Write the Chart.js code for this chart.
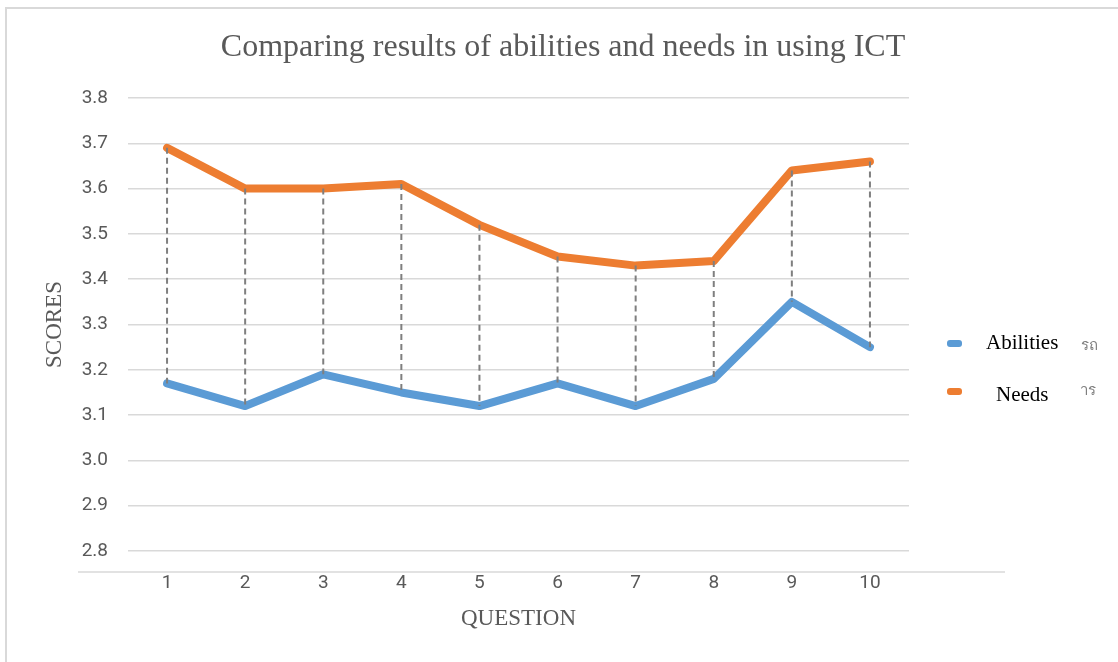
<!DOCTYPE html>
<html>
<head>
<meta charset="utf-8">
<script src="https://cdn.jsdelivr.net/npm/chart.js@4.4.1/dist/chart.umd.min.js"></script>
<style>
  html, body { margin: 0; padding: 0; background: #fff; }
  #wrap { position: relative; width: 1118px; height: 662px; overflow: hidden; }
  #frame { position: absolute; left: 5px; top: 7px; width: 1200px; height: 800px;
           border-left: 2px solid #d9d9d9; border-top: 2px solid #d9d9d9; }
  canvas { position: absolute; left: 0; top: 0; }
  #title { position: absolute; left: 0; width: 1126px; top: 27px; text-align: center;
           font-family: 'Liberation Serif', 'Times New Roman', serif; font-size: 32px; color: #595959; }
  .leg { position: absolute; font-family: 'Liberation Serif', 'Times New Roman', serif;
         font-size: 21px; color: #000; }
  .mark { position: absolute; width: 15px; height: 7px; border-radius: 3px; }
  .thai { position: absolute; font-family: 'Noto Sans', 'DejaVu Sans', sans-serif;
          font-size: 15px; color: #7f7f7f; }
</style>
</head>
<body>
<div id="wrap">
  <div id="frame"></div>
  <canvas id="chart" width="1118" height="662"></canvas>
  <div id="title">Comparing results of abilities and needs in using ICT</div>
  <div class="mark" style="left:947px;top:340px;background:#5b9bd5"></div>
  <div class="leg" style="left:986px;top:330px">Abilities</div>
  <div class="thai" style="left:1081px;top:333px">รถ</div>
  <div class="mark" style="left:947px;top:388px;background:#ed7d31"></div>
  <div class="leg" style="left:996px;top:382px">Needs</div>
  <div class="thai" style="left:1080px;top:378px">าร</div>
</div>
<script>
// Comparing abilities vs needs per question
const questions = ['1', '2', '3', '4', '5', '6', '7', '8', '9', '10'];
const abilities = [3.17, 3.12, 3.19, 3.15, 3.12, 3.17, 3.12, 3.18, 3.35, 3.25];
const needs = [3.69, 3.60, 3.60, 3.61, 3.52, 3.45, 3.43, 3.44, 3.64, 3.66];

const gray = '#595959';
const serif = "'Liberation Serif', 'Times New Roman', serif";
const sans = "Roboto, 'Noto Sans', sans-serif";

// dashed drop lines between the two series + the loose axis line under the plot
const dropLines = {
    id: 'dropLines',
    beforeDatasetsDraw(chart) {
        const { ctx, chartArea } = chart;
        const y = chartArea.bottom + 21;
        ctx.save();
        ctx.strokeStyle = '#d9d9d9';
        ctx.lineWidth = 1.5;
        ctx.beginPath();
        ctx.moveTo(chartArea.left - 50, y);
        ctx.lineTo(chartArea.right + 96, y);
        ctx.stroke();
        ctx.restore();
    },
    afterDatasetsDraw(chart) {
        const { ctx } = chart;
        const a = chart.getDatasetMeta(0).data;
        const n = chart.getDatasetMeta(1).data;
        ctx.save();
        ctx.strokeStyle = '#7f7f7f';
        ctx.lineWidth = 2;
        ctx.setLineDash([6, 4]);
        n.forEach((p, i) => {
            ctx.beginPath();
            ctx.moveTo(p.x, p.y);
            ctx.lineTo(a[i].x, a[i].y);
            ctx.stroke();
        });
        ctx.restore();
    }
};

new Chart(document.getElementById('chart'), {
    type: 'line',
    data: {
        labels: questions,
        datasets: [
            {
                label: 'Abilities',
                data: abilities,
                borderColor: '#5b9bd5',
                borderWidth: 8,
                pointRadius: 0,
                borderCapStyle: 'round',
                borderJoinStyle: 'round',
                tension: 0
            },
            {
                label: 'Needs',
                data: needs,
                borderColor: '#ed7d31',
                borderWidth: 8,
                pointRadius: 0,
                borderCapStyle: 'round',
                borderJoinStyle: 'round',
                tension: 0
            }
        ]
    },
    options: {
        responsive: false,
        animation: false,
        layout: { padding: { left: 0, right: 209, top: 98, bottom: 0 } },
        plugins: {
            legend: { display: false },
            tooltip: { enabled: false },
            title: { display: false }
        },
        scales: {
            x: {
                offset: true,
                grid: { display: false, drawTicks: false },
                border: { display: false },
                ticks: { color: gray, font: { family: sans, size: 19 }, padding: 21 },
                title: {
                    display: true,
                    text: 'QUESTION',
                    color: gray,
                    font: { family: serif, size: 23 },
                    padding: { top: 0, bottom: 29 }
                },
                afterFit(scale) { scale.height = 111; }
            },
            y: {
                min: 2.8,
                max: 3.8,
                grid: { color: '#d9d9d9', lineWidth: 1.5, drawTicks: false },
                border: { display: false },
                ticks: {
                    stepSize: 0.1,
                    color: gray,
                    font: { family: sans, size: 19 },
                    padding: 20,
                    callback: v => v.toFixed(1)
                },
                title: {
                    display: true,
                    text: 'SCORES',
                    color: gray,
                    font: { family: serif, size: 23 },
                    padding: { top: 41, bottom: 0 }
                },
                afterFit(scale) { scale.width = 128; }
            }
        }
    },
    plugins: [dropLines]
});
</script>
</body>
</html>
